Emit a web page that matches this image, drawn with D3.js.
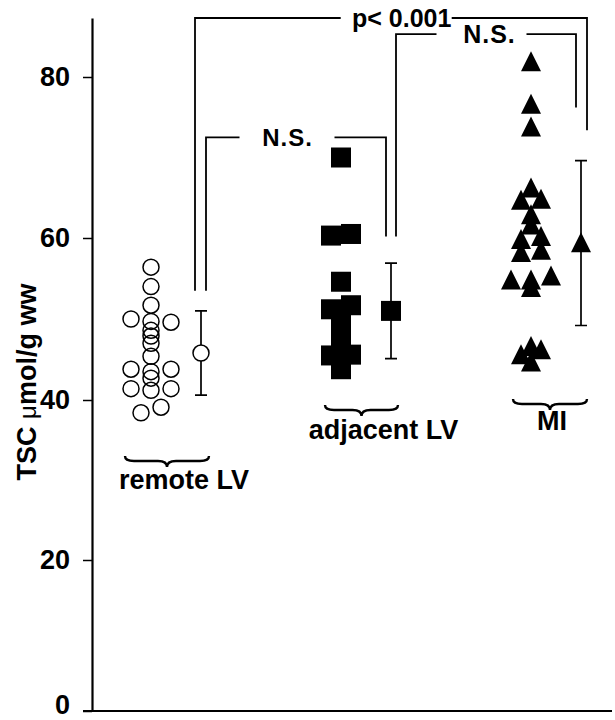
<!DOCTYPE html>
<html>
<head>
<meta charset="utf-8">
<script src="https://cdn.jsdelivr.net/npm/d3@7"></script>
<style>
body { margin: 0; background: #fff; }
svg { display: block; font-family: "Liberation Sans", Arial, Helvetica, sans-serif; }
</style>
</head>
<body>
<script>
// values (TSC, umol/g ww)
var groups = ["remote LV", "adjacent LV", "MI"]

var remoteTSC = [56.4, 54.0, 51.7, 50.0, 49.6, 49.7, 48.6, 47.9, 47.0, 45.4, 43.8, 43.8, 43.5, 42.7, 41.4, 41.4, 41.2, 38.4, 39.1]
var remoteCol = [0, 0, 0, -2, 2, 0, 0, 0, 0, 0, -2, 2, 0, 0, -2, 2, 0, -1, 1]

var adjacentTSC = [70.0, 60.3, 60.5, 54.6, 51.7, 51.2, 49.5, 48.2, 46.2, 45.5, 45.6, 43.8]
var adjacentCol = [0, -1, 1, 0, 1, -1, 0, 0, 0, -1, 1, 0]

var miTSC = [81.9, 76.6, 73.8, 66.2, 64.7, 64.8, 62.9, 61.6, 59.8, 60.2, 58.2, 58.5, 54.8, 54.8, 55.3, 53.9, 45.6, 46.6, 46.2, 44.7]
var miCol = [0, 0, 0, 0, -1, 1, 0, 0, -1, 1, -1, 1, -2, 0, 2, 0, -1, 0, 1, 0]

var meanTSC = [45.8, 51.0, 59.4]
var sdTSC = [5.2, 5.9, 10.2]

var yTicks = [0, 20, 40, 60, 80]

// comparisons: group indexes, label, bracket top and leg ends (TSC units)
var comparisons = [
    {from: 0, to: 2, label: "p< 0.001", top: 87.3, endFrom: 53.5, endTo: 73.4},
    {from: 1, to: 2, label: "N.S.", top: 85.3, endFrom: 60.2, endTo: 76.2},
    {from: 0, to: 1, label: "N.S.", top: 72.5, endFrom: 53.5, endTo: 60.2}
]

var w = 615
var h = 720
var axisX = 92
var baseY = 711
var rightX = 612
var step = 10     // column offset of dodged markers
var meanShift = 50

var svg = d3.select("body")
            .append("svg")
            .attr("width", w)
            .attr("height", h)

// the scanned axis is not quite even, so calibrate on each tick
var yScale = d3.scaleLinear()
    .domain([0, 20, 40, 60, 80, 87.3])
    .range([baseY, 560, 400, 238, 77, 18])

var xScale = d3.scalePoint()
    .domain(groups)
    .range([axisX + 59, axisX + 439])

var series = [
    {group: "remote LV", values: remoteTSC, cols: remoteCol, shape: "circle"},
    {group: "adjacent LV", values: adjacentTSC, cols: adjacentCol, shape: "square"},
    {group: "MI", values: miTSC, cols: miCol, shape: "triangle"}
]

function drawMarker(g, shape, x, y) {
    if (shape == "circle") {
        g.append("circle")
        .attr("cx", x).attr("cy", y).attr("r", 8)
        .attr("fill", "none").attr("stroke", "#000").attr("stroke-width", 1.5)
    } else if (shape == "square") {
        g.append("rect")
        .attr("x", x - 10).attr("y", y - 10)
        .attr("width", 20).attr("height", 20)
        .attr("fill", "#000")
    } else {
        g.append("path")
        .attr("d", "M" + x + "," + (y - 10.5) + "L" + (x + 10) + "," + (y + 9.5) + "L" + (x - 10) + "," + (y + 9.5) + "Z")
        .attr("fill", "#000")
    }
}

// comparison brackets
var bracketLayout = [
    {dl: -6, dr: 6, tx: 10.7, gap: [-61, 50], size: 25, ls: 0},
    {dl: 5, dr: -5, tx: 3.5, gap: [-53, 37], size: 25, ls: 1},
    {dl: 5, dr: -5, tx: -8.5, gap: [-48, 47], size: 24, ls: 1}
]

var brackets = svg.append("g").attr("id", "brackets")
comparisons.forEach(function(c, i) {
    var lay = bracketLayout[i]
    var x0 = xScale(groups[c.from]) + meanShift + lay.dl
    var x1 = xScale(groups[c.to]) + meanShift + lay.dr
    var yt = yScale(c.top)
    var tx = (x0 + x1) / 2 + lay.tx
    brackets.append("path")
    .attr("d", "M" + x0 + "," + yScale(c.endFrom) + "V" + yt + "H" + (tx + lay.gap[0]) +
               "M" + (tx + lay.gap[1]) + "," + yt + "H" + x1 + "V" + yScale(c.endTo))
    .attr("fill", "none")
    .attr("stroke", "#000")
    .attr("stroke-width", 1.8)
    brackets.append("text")
    .attr("x", tx)
    .attr("y", yt + lay.size * 0.36)
    .attr("text-anchor", "middle")
    .attr("font-size", lay.size)
    .attr("font-weight", "bold")
    .attr("letter-spacing", lay.ls)
    .text(c.label)
})

// individual points
series.forEach(function(s) {
    var g = svg.append("g").attr("class", "points")
    s.values.forEach(function(v, i) {
        drawMarker(g, s.shape, xScale(s.group) + s.cols[i] * step, yScale(v))
    })
})

// mean and sd
groups.forEach(function(gr, i) {
    var g = svg.append("g").attr("class", "mean")
    var x = xScale(gr) + meanShift
    var top = yScale(meanTSC[i] + sdTSC[i])
    var bot = yScale(meanTSC[i] - sdTSC[i])
    g.append("path")
    .attr("d", "M" + x + "," + top + "V" + bot + "M" + (x - 6) + "," + top + "H" + (x + 6) + "M" + (x - 6) + "," + bot + "H" + (x + 6))
    .attr("fill", "none")
    .attr("stroke", "#000")
    .attr("stroke-width", 1.7)
    if (series[i].shape == "circle") {
        g.append("circle").attr("cx", x).attr("cy", yScale(meanTSC[i])).attr("r", 8).attr("fill", "#fff")
    }
    drawMarker(g, series[i].shape, x, yScale(meanTSC[i]))
})

// create y axis
var yAxis = d3.axisLeft(yScale).tickValues(yTicks).tickSize(9).tickSizeOuter(0).tickPadding(13)
var yG = svg.append("g")
    .attr("id", "y-axis")
    .attr("transform", "translate(" + axisX + ",0)")
    .call(yAxis)
yG.select(".domain").attr("stroke-width", 2.2)
yG.selectAll(".tick line").attr("stroke-width", 1.5)
yG.selectAll(".tick text")
    .attr("font-size", 27)
    .attr("font-weight", "bold")
    .attr("font-family", "Liberation Sans, Arial, sans-serif")
    .attr("fill", "#000")
    .attr("dy", d => d == 0 ? "0.08em" : "0.3em")

// x axis baseline
svg.append("line")
    .attr("x1", axisX - 9).attr("x2", rightX)
    .attr("y1", baseY).attr("y2", baseY)
    .attr("stroke", "#000")
    .attr("stroke-width", 2.2)

// y axis title
var yTitle = svg.append("text")
    .attr("transform", "translate(36,382) rotate(-90)")
    .attr("text-anchor", "middle")
    .attr("font-size", 27)
    .attr("font-weight", "bold")
yTitle.append("tspan").text("TSC ")
yTitle.append("tspan").attr("font-weight", "normal").attr("font-size", 24).text("μ")
yTitle.append("tspan").text("mol/g ww")

// group labels with braces
var labelLayout = [
    {b0: -26, b1: 58, by: 456, lx: 33, ly: 489},
    {b0: -16, b1: 57, by: 405, lx: 42.5, ly: 439},
    {b0: -18, b1: 56, by: 399, lx: 21, ly: 430}
]

function bracePath(x0, x1, y) {
    var xm = (x0 + x1) / 2
    var r = 9
    var m = y + 5
    return "M" + x0 + "," + y + "Q" + x0 + "," + m + " " + (x0 + r) + "," + m +
           "L" + (xm - r) + "," + m + "Q" + xm + "," + m + " " + xm + "," + (y + 11) +
           "Q" + xm + "," + m + " " + (xm + r) + "," + m +
           "L" + (x1 - r) + "," + m + "Q" + x1 + "," + m + " " + x1 + "," + y
}

groups.forEach(function(gr, i) {
    var lay = labelLayout[i]
    var gx = xScale(gr)
    svg.append("path")
    .attr("d", bracePath(gx + lay.b0, gx + lay.b1, lay.by))
    .attr("fill", "none")
    .attr("stroke", "#000")
    .attr("stroke-width", 2.4)
    svg.append("text")
    .attr("x", gx + lay.lx)
    .attr("y", lay.ly)
    .attr("text-anchor", "middle")
    .attr("font-size", 27)
    .attr("font-weight", "bold")
    .text(gr)
})
</script>
</body>
</html>
